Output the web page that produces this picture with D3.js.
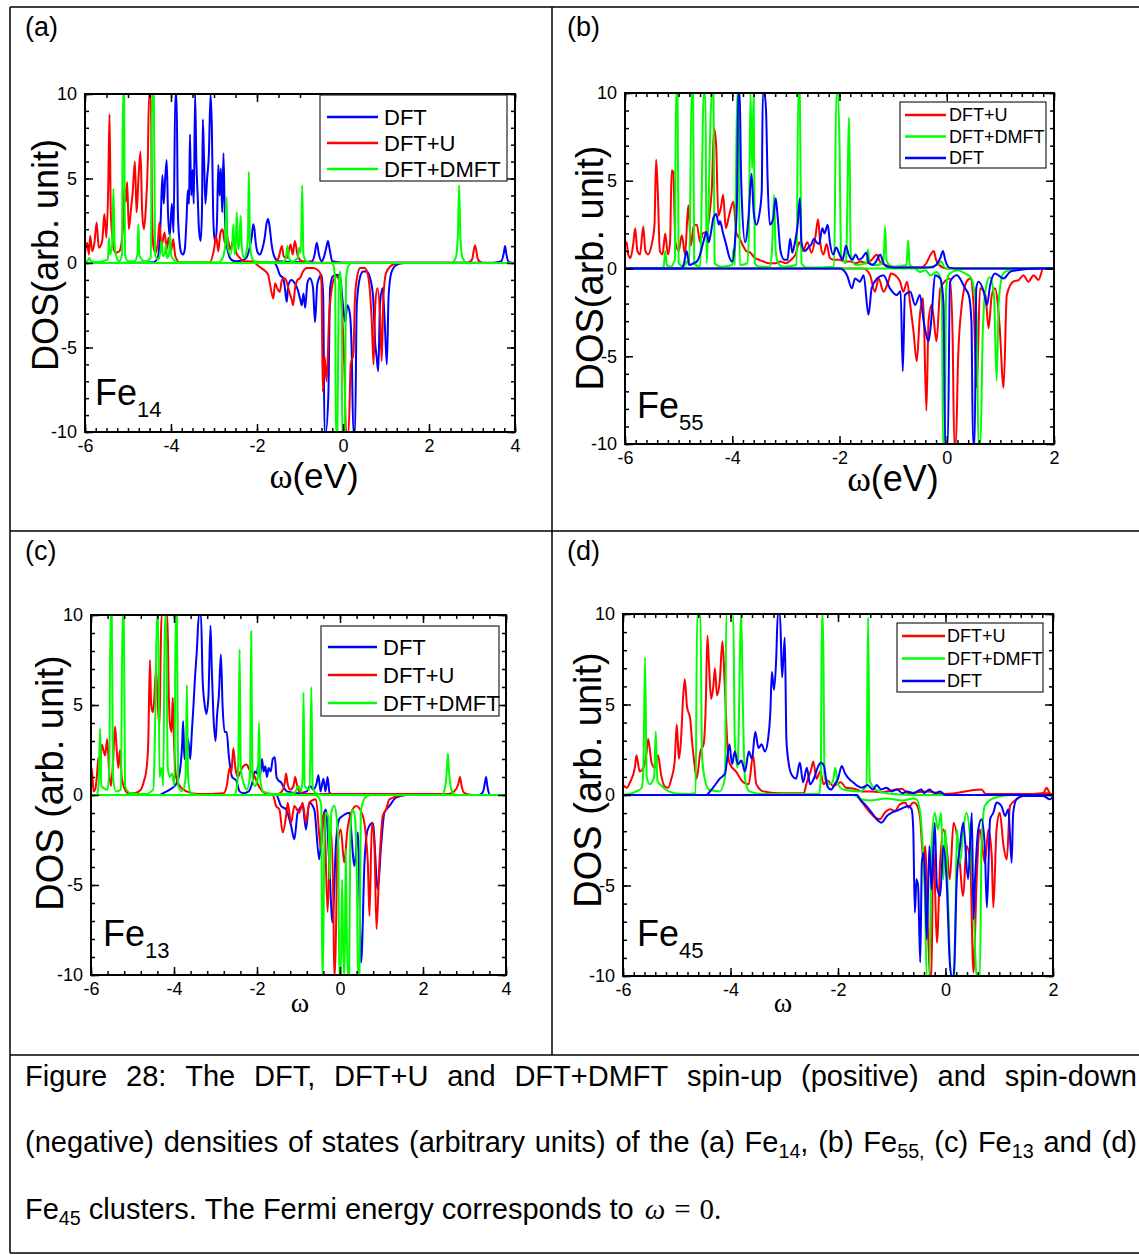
<!DOCTYPE html>
<html>
<head>
<meta charset="utf-8">
<script src="https://cdn.jsdelivr.net/npm/d3@7"></script>
<style>
  body { margin: 0; background: #fff; }
  svg { display: block; font-family: "Liberation Sans", Arial, sans-serif; }
</style>
</head>
<body>
<svg id="fig" width="1139" height="1255"></svg>
<script>
// ---- data: DOS vertices [omega (eV), DOS] ----
const yTicks = [-10, -5, 0, 5, 10]
const xTicksWide = [-6, -4, -2, 0, 2, 4]
const xTicksNarrow = [-6, -4, -2, 0, 2]

// (a) Fe14
const a_dft_up = [[-6,0],[-4.4,0.05],[-4.3,0.4],[-4.24,2.5],[-4.2,5.2],[-4.17,3.5],[-4.14,4.8],[-4.1,6.1],[-4.07,3],[-4.03,1.6],[-3.98,3.5],[-3.94,1.8],[-3.9,10],[-3.87,10],[-3.84,3],[-3.8,1.2],[-3.76,0.6],[-3.72,0.5],[-3.68,0.8],[-3.64,2.5],[-3.61,4.3],[-3.58,3.5],[-3.56,7.6],[-3.53,4],[-3.5,5.5],[-3.47,3.5],[-3.44,10],[-3.41,6],[-3.38,4],[-3.35,2],[-3.31,1.3],[-3.28,3],[-3.26,8.5],[-3.23,6],[-3.2,3.5],[-3.16,5],[-3.12,6.4],[-3.08,10],[-3.05,8],[-3.02,3],[-2.99,1.5],[-2.96,1.3],[-2.93,2.5],[-2.9,5.8],[-2.87,4],[-2.84,5.6],[-2.81,3],[-2.78,6.5],[-2.75,3],[-2.72,1.5],[-2.67,0.6],[-2.6,0.2],[-2.5,0.1],[-2.35,0.15],[-2.25,0.3],[-2.18,0.8],[-2.12,1.6],[-2.09,2.3],[-2.06,2.0],[-2.03,1.2],[-1.98,0.6],[-1.93,0.5],[-1.88,0.8],[-1.82,1.5],[-1.78,2.3],[-1.74,2.6],[-1.7,2.0],[-1.66,1.1],[-1.6,0.4],[-1.5,0.1],[-1.0,0.05],[-0.72,0.1],[-0.66,0.5],[-0.61,1.2],[-0.56,0.5],[-0.5,0.1],[-0.45,0.3],[-0.39,0.9],[-0.35,1.3],[-0.31,0.8],[-0.25,0.1],[0.0,0.02],[3.5,0.02],[3.68,0.1],[3.74,0.6],[3.77,1.0],[3.8,0.5],[3.86,0.05],[4,0]]
const a_dft_dn = [[-6,0],[-1.6,0],[-1.54,-0.2],[-1.47,-0.7],[-1.39,-0.9],[-1.35,-1.5],[-1.31,-2.3],[-1.27,-1.3],[-1.2,-1.0],[-1.12,-1.2],[-1.05,-1.6],[-0.99,-2.2],[-0.96,-2.5],[-0.92,-1.8],[-0.88,-2.65],[-0.83,-1.2],[-0.77,-0.9],[-0.7,-1.4],[-0.65,-3.5],[-0.6,-1.3],[-0.54,-0.8],[-0.5,-0.7],[-0.46,-2],[-0.43,-10],[-0.4,-10],[-0.34,-7.8],[-0.3,-1.5],[-0.24,-0.8],[-0.15,-0.7],[-0.07,-0.8],[0.0,-2.5],[0.05,-3.5],[0.1,-2.5],[0.16,-3.0],[0.2,-5],[0.24,-10],[0.28,-10],[0.32,-2.5],[0.4,-0.8],[0.47,-0.5],[0.55,-0.5],[0.62,-0.8],[0.7,-2],[0.75,-4.8],[0.78,-5.5],[0.82,-6.4],[0.86,-2.5],[0.92,-1.5],[0.97,-3.5],[1.02,-6],[1.06,-2],[1.12,-0.6],[1.2,-0.2],[1.3,-0.05],[1.45,0],[4,0]]
const a_dftu_up = [[-6,0.6],[-5.95,1.2],[-5.91,0.5],[-5.88,1.6],[-5.83,0.7],[-5.78,1.2],[-5.73,2.4],[-5.68,0.9],[-5.6,1.3],[-5.55,2.9],[-5.5,1.5],[-5.46,4.5],[-5.43,8.8],[-5.4,3],[-5.35,1.2],[-5.3,0.6],[-5.2,0.7],[-5.12,2],[-5.08,4.5],[-5.05,3.6],[-5.02,4.8],[-4.98,2],[-4.93,3.2],[-4.89,4.2],[-4.84,6],[-4.8,3],[-4.76,4.8],[-4.71,6.6],[-4.67,3],[-4.63,2],[-4.58,3.5],[-4.54,6],[-4.51,10],[-4.47,10],[-4.44,3],[-4.41,1],[-4.36,0.6],[-4.3,1.4],[-4.27,2.4],[-4.22,1],[-4.15,1.8],[-4.1,0.8],[-4.06,1.5],[-4,0.7],[-3.95,1.4],[-3.9,0.4],[-3.8,0.05],[-3.1,0.05],[-3.0,0.8],[-2.95,1.6],[-2.9,0.7],[-2.85,1.8],[-2.8,2.0],[-2.75,1.2],[-2.7,1.6],[-2.62,0.8],[-2.55,1.4],[-2.48,0.6],[-2.4,0.3],[-2.3,0.1],[-1.6,0.05],[-1.5,0.3],[-1.42,1.0],[-1.38,0.4],[-1.3,0.3],[-1.22,1.1],[-1.17,0.5],[-1.12,1.3],[-1.05,0.4],[-0.95,0.1],[-0.6,0.02],[2.9,0.02],[3.0,0.2],[3.07,1.05],[3.14,0.2],[3.25,0],[4,0]]
const a_dftu_dn = [[-6,0],[-2.05,0],[-2.0,-0.1],[-1.9,-0.3],[-1.8,-0.5],[-1.74,-0.7],[-1.68,-1.5],[-1.62,-2.1],[-1.58,-1.2],[-1.53,-1.5],[-1.47,-1.7],[-1.42,-1.0],[-1.35,-0.9],[-1.31,-1.1],[-1.25,-1.7],[-1.19,-2.2],[-1.16,-2.5],[-1.12,-1.6],[-1.06,-1.0],[-1.0,-0.9],[-0.93,-0.5],[-0.84,-0.3],[-0.75,-0.3],[-0.69,-0.3],[-0.6,-0.4],[-0.53,-0.6],[-0.5,-1.2],[-0.47,-7.6],[-0.43,-5.5],[-0.38,-7.0],[-0.32,-3],[-0.26,-1.5],[-0.22,-1.0],[-0.15,-0.8],[-0.07,-1.2],[-0.02,-3],[0.03,-6],[0.07,-10],[0.13,-10],[0.18,-6],[0.24,-5.4],[0.28,-2],[0.33,-0.8],[0.4,-0.3],[0.5,-0.3],[0.57,-0.6],[0.62,-1.5],[0.67,-3.5],[0.71,-6],[0.75,-2.5],[0.8,-1.5],[0.86,-3],[0.9,-5.8],[0.94,-2],[1.0,-0.6],[1.1,-0.2],[1.2,-0.05],[1.3,0],[4,0]]
const a_dmft_up = [[-6,0.1],[-5.95,0.1],[-5.9,0.3],[-5.86,0.1],[-5.75,0.05],[-5.47,0.2],[-5.44,1.5],[-5.42,0.5],[-5.37,1],[-5.34,4.4],[-5.31,1],[-5.26,0.3],[-5.2,0.1],[-5.14,0.5],[-5.12,10],[-5.09,10],[-5.07,0.5],[-5.0,0.1],[-4.85,0.1],[-4.78,0.5],[-4.76,2.3],[-4.73,0.4],[-4.6,0.1],[-4.47,0.3],[-4.44,10],[-4.4,10],[-4.37,0.5],[-4.3,0.2],[-4.24,0.8],[-4.22,1.3],[-4.19,0.4],[-4.14,0.6],[-4.12,1.1],[-4.09,0.3],[-4.04,0.6],[-4.02,1.7],[-4.0,0.5],[-3.94,0.2],[-3.85,0.05],[-2.9,0.05],[-2.8,0.3],[-2.74,1.0],[-2.71,3.9],[-2.68,1.0],[-2.62,0.5],[-2.57,1.2],[-2.55,2.3],[-2.52,0.5],[-2.49,1.5],[-2.47,3.0],[-2.44,0.8],[-2.41,1.2],[-2.38,2.8],[-2.35,0.8],[-2.3,0.3],[-2.25,0.6],[-2.21,1.5],[-2.19,5.4],[-2.16,1.0],[-2.1,0.2],[-2.0,0.05],[-1.4,0.05],[-1.33,0.3],[-1.29,1.0],[-1.26,0.3],[-1.18,0.1],[-1.05,0.3],[-1.02,0.9],[-0.98,0.6],[-0.95,4.6],[-0.92,0.5],[-0.85,0.1],[-0.7,0],[2.5,0],[2.62,0.3],[2.67,1.5],[2.7,4.6],[2.73,1.5],[2.78,0.3],[2.9,0],[4,0]]
const a_dmft_dn = [[-6,0],[-0.25,0],[-0.21,-0.3],[-0.18,-1.2],[-0.17,-10],[-0.13,-10],[-0.1,-1.5],[-0.07,-0.5],[-0.05,-1.2],[-0.03,-3],[-0.02,-10],[0.04,-10],[0.07,-1],[0.12,-0.2],[0.2,0],[4,0]]

// (b) Fe55
const b_dftu_up = [[-6,1.5],[-5.97,1.5],[-5.94,0.8],[-5.9,0.6],[-5.85,1.3],[-5.81,2.3],[-5.77,1.0],[-5.72,0.8],[-5.66,2.4],[-5.62,1.0],[-5.57,0.8],[-5.5,1.4],[-5.45,2.5],[-5.42,6.2],[-5.39,4.5],[-5.35,1.0],[-5.3,0.8],[-5.25,2.0],[-5.2,0.8],[-5.16,1.5],[-5.13,5.6],[-5.1,5.5],[-5.06,1.5],[-5.0,1.0],[-4.94,1.9],[-4.88,0.8],[-4.82,3.6],[-4.77,1.3],[-4.72,2.4],[-4.66,2.5],[-4.6,1.5],[-4.55,2.0],[-4.48,2.1],[-4.42,3.2],[-4.38,4.6],[-4.34,8.0],[-4.3,7.0],[-4.26,3.0],[-4.21,3.5],[-4.17,4.2],[-4.12,2.3],[-4.06,3.0],[-3.98,3.8],[-3.92,2.0],[-3.86,1.7],[-3.8,1.3],[-3.74,1.0],[-3.66,0.9],[-3.58,0.6],[-3.5,0.5],[-3.42,0.4],[-3.32,0.3],[-3.2,0.3],[-3.1,0.4],[-3.0,0.3],[-2.9,0.5],[-2.82,0.8],[-2.75,1.5],[-2.68,1.0],[-2.6,1.5],[-2.52,0.9],[-2.45,1.8],[-2.4,2.8],[-2.36,1.5],[-2.3,0.8],[-2.24,1.4],[-2.18,0.6],[-2.1,0.5],[-2.0,0.5],[-1.9,0.4],[-1.8,0.4],[-1.7,0.3],[-1.6,0.4],[-1.5,0.3],[-1.4,0.5],[-1.3,0.8],[-1.25,0.4],[-1.15,0.2],[-1.0,0.1],[-0.8,0.05],[-0.5,0.05],[-0.38,0.3],[-0.3,0.8],[-0.24,1.0],[-0.2,0.5],[-0.14,0.2],[0,0],[2,0]]
const b_dftu_dn = [[-6,0],[-1.55,0],[-1.43,-0.38],[-1.34,-1.32],[-1.27,-0.57],[-1.18,-1.32],[-1.09,-0.75],[-1.04,-0.28],[-0.96,-0.38],[-0.87,-0.75],[-0.81,-1.32],[-0.74,-0.75],[-0.68,-2.08],[-0.62,-3.58],[-0.56,-5.28],[-0.5,-2.64],[-0.44,-1.7],[-0.38,-8.11],[-0.34,-3.02],[-0.28,-2.08],[-0.19,-4.15],[-0.12,-1.13],[0.06,-0.57],[0.11,-4],[0.14,-10],[0.17,-10],[0.21,-5.28],[0.28,-2.08],[0.37,-0.75],[0.44,-0.57],[0.5,-2.08],[0.56,-6.79],[0.62,-1.13],[0.72,-1.5],[0.78,-3.4],[0.84,-1.51],[0.9,-1.13],[0.98,-3.02],[1.06,-6.79],[1.12,-1.51],[1.24,-0.75],[1.34,-0.66],[1.43,-0.38],[1.52,-0.75],[1.62,-0.38],[1.71,-0.66],[1.8,0],[2,0]]
const b_dmft_up = [[-6,0],[-5.3,0],[-5.27,0.3],[-5.25,1.0],[-5.22,0.2],[-5.15,0.1],[-5.07,0.5],[-5.05,10],[-5.02,10],[-5.0,0.3],[-4.9,0.1],[-4.85,0.4],[-4.8,0.2],[-4.76,10],[-4.73,10],[-4.71,0.3],[-4.6,0.1],[-4.53,10],[-4.5,10],[-4.48,0.3],[-4.38,10],[-4.35,10],[-4.33,0.3],[-4.2,0.1],[-4.0,0.2],[-3.98,1.1],[-3.95,0.2],[-3.91,10],[-3.88,10],[-3.86,0.2],[-3.72,0.3],[-3.69,2],[-3.66,10],[-3.63,5.7],[-3.6,10],[-3.58,0.3],[-3.5,0.1],[-3.3,0.1],[-3.26,1.0],[-3.22,4.2],[-3.19,1.0],[-3.14,0.3],[-3.05,0.1],[-2.8,0.2],[-2.77,10],[-2.74,10],[-2.71,0.3],[-2.6,0.05],[-2.1,0.1],[-2.06,10],[-2.03,10],[-2.0,7.1],[-1.97,0.8],[-1.88,0.3],[-1.82,8.6],[-1.79,0.8],[-1.7,0.2],[-1.5,0.3],[-1.47,1.1],[-1.44,0.3],[-1.3,0.2],[-1.18,0.4],[-1.15,2.4],[-1.12,0.4],[-1.0,0.1],[-0.75,0.2],[-0.72,1.6],[-0.69,0.2],[-0.55,0.0],[-0.3,0.1],[-0.18,0.2],[-0.1,0.4],[-0.05,0.1],[0.0,0],[2,0]]
const b_dmft_dn = [[-6,0],[-0.6,0],[-0.5,-0.2],[-0.4,-0.1],[-0.3,-0.4],[-0.2,-0.2],[-0.12,-0.5],[-0.09,-2],[-0.07,-10],[-0.04,-10],[-0.01,-1.1],[0.03,-0.4],[0.1,-0.2],[0.2,-0.1],[0.35,-0.3],[0.45,-0.5],[0.52,-1.5],[0.56,-3],[0.59,-10],[0.63,-10],[0.67,-3.8],[0.72,-1.3],[0.8,-0.5],[0.88,-1.5],[0.93,-6.4],[0.97,-1.9],[1.05,-0.3],[1.15,-0.1],[1.3,0],[2,0]]
const b_dft_up = [[-6,0],[-4.95,0],[-4.9,0.3],[-4.85,1.0],[-4.8,0.2],[-4.72,0.3],[-4.66,0.4],[-4.6,0.8],[-4.54,1.5],[-4.48,2.1],[-4.44,1.5],[-4.4,2.0],[-4.35,2.9],[-4.3,3.1],[-4.25,2.5],[-4.23,2.7],[-4.17,2.0],[-4.1,1.2],[-4.07,0.8],[-4.0,0.4],[-3.95,1.5],[-3.91,4.0],[-3.89,10],[-3.86,10],[-3.84,6.0],[-3.82,3.8],[-3.76,1.5],[-3.7,2.8],[-3.64,5.4],[-3.6,3.2],[-3.55,2.5],[-3.5,3.0],[-3.45,4.4],[-3.43,10],[-3.4,10],[-3.37,9.0],[-3.34,5.0],[-3.3,2.5],[-3.24,2.8],[-3.19,4.0],[-3.16,3.2],[-3.1,1.0],[-3.03,0.5],[-2.97,0.5],[-2.92,1.7],[-2.88,0.9],[-2.83,1.5],[-2.78,2.5],[-2.74,4.0],[-2.71,1.5],[-2.65,1.0],[-2.58,1.2],[-2.52,1.4],[-2.48,1.7],[-2.43,1.5],[-2.38,1.4],[-2.32,2.3],[-2.28,2.0],[-2.22,2.5],[-2.18,1.5],[-2.12,0.8],[-2.06,1.2],[-2.0,0.8],[-1.94,0.5],[-1.88,1.3],[-1.83,0.8],[-1.76,0.5],[-1.7,0.8],[-1.64,0.5],[-1.58,0.6],[-1.5,0.9],[-1.45,0.3],[-1.38,0.2],[-1.3,0.5],[-1.24,0.8],[-1.18,0.3],[-1.1,0.1],[-0.9,0.05],[-0.3,0.05],[-0.2,0.2],[-0.12,0.6],[-0.07,1.0],[-0.03,0.5],[0.05,0.05],[0.2,0],[2,0]]
const b_dft_dn = [[-6,0],[-1.99,0],[-1.86,-0.38],[-1.77,-1.13],[-1.71,-0.57],[-1.62,-0.75],[-1.55,-0.38],[-1.46,-2.64],[-1.4,-1.13],[-1.3,-0.57],[-1.18,-0.38],[-1.06,-1.13],[-0.93,-1.51],[-0.86,-1.3],[-0.82,-5.85],[-0.78,-1.51],[-0.68,-1.32],[-0.59,-2.08],[-0.5,-1.51],[-0.43,-3.02],[-0.34,-4.15],[-0.28,-2.64],[-0.22,-0.38],[-0.12,-0.57],[-0.06,-2],[-0.03,-10],[0.02,-10],[0.06,-0.75],[0.19,-0.38],[0.28,-0.75],[0.34,-1.13],[0.41,-1.51],[0.46,-3],[0.49,-10],[0.52,-10],[0.55,-1.13],[0.59,-0.75],[0.69,-1.32],[0.75,-2.08],[0.81,-0.94],[0.9,-0.28],[1.06,-0.57],[1.18,-0.19],[1.31,-0.1],[1.68,0],[2,0]]

// (c) Fe13
const c_dft_up = [[-6,0],[-4.35,0],[-4.26,0.1],[-4.1,0.3],[-3.95,0.6],[-3.86,1.3],[-3.8,3.0],[-3.78,4.1],[-3.75,2.0],[-3.7,2.5],[-3.66,3.1],[-3.61,2.0],[-3.57,3.5],[-3.53,5.0],[-3.5,6.3],[-3.45,8],[-3.4,10],[-3.35,10],[-3.31,6.4],[-3.26,5.0],[-3.22,4.5],[-3.17,5.5],[-3.12,9.4],[-3.09,7.0],[-3.05,4.4],[-3.0,3.0],[-2.96,4.5],[-2.92,5.5],[-2.87,7.8],[-2.83,5.0],[-2.78,3.5],[-2.73,3.5],[-2.68,2.2],[-2.6,1.0],[-2.5,0.8],[-2.42,0.2],[-2.33,0.1],[-2.2,0.2],[-2.1,0.8],[-2.05,1.3],[-2.0,1.2],[-1.97,1.7],[-1.93,1.0],[-1.88,2.0],[-1.84,1.3],[-1.8,1.6],[-1.76,1.0],[-1.72,1.5],[-1.67,1.3],[-1.62,2.0],[-1.57,2.1],[-1.53,1.0],[-1.48,0.8],[-1.42,0.7],[-1.35,0.4],[-1.28,0.2],[-1.0,0.1],[-0.8,0.2],[-0.72,0.5],[-0.64,0.3],[-0.57,0.6],[-0.52,1.1],[-0.47,0.2],[-0.4,0.9],[-0.35,0.2],[-0.3,1.0],[-0.25,0.1],[-0.1,0],[3.35,0],[3.45,0.2],[3.5,0.8],[3.52,1.0],[3.55,0.5],[3.62,0],[4,0]]
const c_dft_dn = [[-6,0],[-1.54,0],[-1.42,-0.61],[-1.3,-0.8],[-1.18,-1.7],[-1.1,-2.46],[-1.02,-0.98],[-0.9,-0.61],[-0.82,-1.91],[-0.74,-0.43],[-0.62,-0.8],[-0.5,-3.57],[-0.42,-1.35],[-0.34,-0.8],[-0.26,-3.76],[-0.18,-7.09],[-0.1,-2.83],[-0.02,-1.35],[0.06,-1.17],[0.22,-0.98],[0.35,-3.94],[0.43,-2.09],[0.51,-9.31],[0.59,-3.76],[0.67,-1.91],[0.79,-1.54],[0.91,-5.24],[0.99,-2.83],[1.07,-0.98],[1.19,-0.61],[1.35,-0.15],[1.59,0],[4,0]]
const c_dftu_up = [[-6,1.5],[-5.98,1.5],[-5.94,0.2],[-5.9,0.3],[-5.86,1.0],[-5.82,2.1],[-5.78,1.5],[-5.74,2.8],[-5.7,2.5],[-5.66,2.2],[-5.61,3.1],[-5.56,1.2],[-5.52,0.5],[-5.47,1.8],[-5.42,3.8],[-5.38,2.5],[-5.34,1.5],[-5.3,2.5],[-5.26,1.0],[-5.2,0.4],[-5.1,0.1],[-4.95,0.1],[-4.8,0.3],[-4.72,0.8],[-4.66,1.5],[-4.62,3],[-4.58,7.5],[-4.55,5.0],[-4.51,4.6],[-4.48,5.2],[-4.43,7.0],[-4.39,5.0],[-4.35,3.8],[-4.32,8],[-4.3,10],[-4.25,10],[-4.2,10],[-4.16,10],[-4.13,6],[-4.1,4.0],[-4.06,3.5],[-4.03,5.4],[-4.0,3],[-3.95,1.0],[-3.86,0.5],[-3.7,0.2],[-3.4,0.05],[-2.8,0.1],[-2.73,0.5],[-2.66,1.5],[-2.62,1.2],[-2.57,2.6],[-2.52,1.5],[-2.46,1.0],[-2.4,1.3],[-2.33,1.6],[-2.25,1.7],[-2.18,1.4],[-2.12,1.3],[-2.05,1.0],[-1.98,0.6],[-1.9,0.3],[-1.8,0.1],[-1.5,0.05],[-1.4,0.2],[-1.33,0.7],[-1.3,1.2],[-1.26,0.6],[-1.2,0.3],[-1.12,0.5],[-1.08,1.0],[-1.04,0.6],[-0.98,0.2],[-0.85,0.05],[2.6,0.05],[2.75,0.2],[2.85,0.6],[2.89,1.0],[2.93,0.5],[3.0,0.1],[3.2,0],[4,0]]
const c_dftu_dn = [[-6,0],[-1.62,0],[-1.54,-0.61],[-1.46,-0.8],[-1.38,-2.09],[-1.3,-1.17],[-1.26,-0.43],[-1.18,-1.54],[-1.1,-0.61],[-0.98,-0.98],[-0.9,-0.43],[-0.82,-1.54],[-0.74,-0.43],[-0.58,-0.24],[-0.46,-3.0],[-0.38,-0.98],[-0.3,-6.5],[-0.22,-1.91],[-0.16,-6],[-0.14,-10],[-0.12,-10],[-0.06,-2.83],[0.02,-1.91],[0.1,-3.76],[0.18,-1.91],[0.27,-0.98],[0.39,-0.61],[0.55,-1.17],[0.67,-3.76],[0.71,-6.72],[0.77,-1.54],[0.83,-2.83],[0.88,-7.46],[0.95,-3.76],[1.03,-1.17],[1.11,-0.8],[1.19,-0.24],[1.59,0],[4,0]]
const c_dmft_up = [[-6,0],[-5.86,0],[-5.82,0.5],[-5.78,3.7],[-5.75,0.5],[-5.6,0.3],[-5.56,1.5],[-5.53,10],[-5.5,10],[-5.47,1],[-5.4,0.2],[-5.28,0.3],[-5.24,10],[-5.21,10],[-5.18,0.5],[-5.05,0.1],[-4.7,0.05],[-4.5,0.3],[-4.45,4.4],[-4.41,10],[-4.38,10],[-4.35,1.0],[-4.3,1.5],[-4.26,0.5],[-4.22,10],[-4.19,10],[-4.15,1.5],[-4.1,1.0],[-4.05,1.2],[-3.99,0.5],[-3.96,10],[-3.93,10],[-3.9,0.5],[-3.8,0.2],[-3.72,1.0],[-3.69,6.1],[-3.66,1.0],[-3.6,0.1],[-3.4,0],[-2.55,0],[-2.48,0.5],[-2.45,2],[-2.42,8.1],[-2.39,1.5],[-2.3,0.5],[-2.25,0.3],[-2.17,1.0],[-2.14,9.1],[-2.11,1.0],[-2.05,0.5],[-1.98,1.0],[-1.95,4.0],[-1.92,0.8],[-1.85,0.2],[-1.6,0.05],[-1.1,0.1],[-1.0,0.5],[-0.94,0.2],[-0.9,1.0],[-0.88,5.7],[-0.85,0.5],[-0.73,0.3],[-0.69,6.0],[-0.66,0.5],[-0.58,0.1],[-0.4,0],[2.45,0],[2.52,0.3],[2.57,1.2],[2.6,2.3],[2.63,1.2],[2.7,0.2],[2.8,0],[4,0]]
const c_dmft_dn = [[-6,0],[-0.6,0],[-0.5,-0.2],[-0.45,-0.6],[-0.43,-10],[-0.41,-10],[-0.38,-3.0],[-0.34,-1.0],[-0.28,-1.2],[-0.25,-4.7],[-0.21,-1.0],[-0.14,-0.6],[-0.07,-1.5],[-0.04,-3],[-0.02,-10],[0.02,-10],[0.05,-4.7],[0.09,-10],[0.11,-10],[0.14,-3.0],[0.18,-10],[0.22,-10],[0.25,-2.0],[0.3,-0.8],[0.36,-1.2],[0.41,-5],[0.43,-10],[0.47,-10],[0.5,-1.0],[0.55,-0.4],[0.62,-0.1],[0.75,0],[4,0]]

// (d) Fe45
const d_dftu_up = [[-6,0.55],[-5.93,0.4],[-5.87,0.7],[-5.78,1.5],[-5.75,2.2],[-5.69,1.3],[-5.62,1.5],[-5.56,2.4],[-5.53,3.1],[-5.47,1.8],[-5.41,1.5],[-5.35,2.2],[-5.29,1.1],[-5.23,0.5],[-5.16,0.4],[-5.1,0.9],[-5.04,1.8],[-5.0,3.9],[-4.96,2.0],[-4.92,3.1],[-4.88,5.5],[-4.85,6.4],[-4.81,4.9],[-4.75,4.2],[-4.71,2.8],[-4.67,1.7],[-4.63,0.9],[-4.56,2.4],[-4.5,2.8],[-4.46,5],[-4.43,8.8],[-4.4,7.2],[-4.36,5.3],[-4.32,6],[-4.29,7.0],[-4.25,5.5],[-4.2,6.3],[-4.15,8.5],[-4.11,6.3],[-4.05,2.4],[-4.01,1.7],[-3.9,1.3],[-3.76,0.7],[-3.66,0.6],[-3.58,2.2],[-3.52,0.6],[-3.39,0.2],[-3.1,0.1],[-2.8,0.1],[-2.64,0.1],[-2.58,0.7],[-2.5,1.4],[-2.46,1.85],[-2.4,0.9],[-2.33,1.3],[-2.27,0.6],[-2.2,0.8],[-2.09,0.5],[-1.95,0.7],[-1.85,0.4],[-1.7,0.35],[-1.55,0.2],[-1.4,0.2],[-1.21,0.15],[-0.81,0.35],[-0.7,0.1],[-0.35,0.2],[0,0.05],[0.67,0.3],[0.75,0.05],[1.5,0.05],[1.9,0.1],[2,0]]
const d_dftu_dn = [[-6,0],[-1.65,0],[-1.59,-0.24],[-1.5,-0.61],[-1.4,-0.98],[-1.31,-1.25],[-1.22,-1.34],[-1.13,-0.98],[-1.03,-0.79],[-0.94,-0.88],[-0.85,-0.52],[-0.75,-0.42],[-0.69,-0.7],[-0.6,-0.42],[-0.54,-0.52],[-0.47,-1.34],[-0.41,-3.74],[-0.38,-2.82],[-0.32,-8],[-0.29,-10],[-0.26,-10],[-0.23,-2.82],[-0.2,-4.66],[-0.16,-8.16],[-0.1,-3.74],[-0.04,-1.9],[0.02,-2.82],[0.08,-4.66],[0.15,-1.53],[0.24,-2.82],[0.33,-5.58],[0.39,-2.82],[0.46,-3.74],[0.52,-9.8],[0.58,-4.66],[0.64,-1.9],[0.73,-3.74],[0.8,-1.9],[0.86,-3.37],[0.89,-6.22],[0.95,-1.9],[1.01,-0.98],[1.08,-2.82],[1.14,-3.56],[1.2,-0.61],[1.32,-0.24],[1.45,0],[1.82,0.1],[1.88,0.4],[1.94,0.1],[2,0]]
const d_dmft_up = [[-6,0],[-5.75,0.2],[-5.65,0.4],[-5.62,1.5],[-5.59,7.6],[-5.56,1.0],[-5.5,0.6],[-5.42,1.0],[-5.39,3.5],[-5.36,0.8],[-5.28,0.5],[-5.15,0.2],[-4.9,0.05],[-4.65,0.1],[-4.62,10],[-4.59,10],[-4.56,10],[-4.53,2.2],[-4.48,0.9],[-4.4,0.3],[-4.2,0.2],[-4.1,1.0],[-4.08,10],[-4.06,10],[-4.03,10],[-3.99,10],[-3.95,10],[-3.92,3],[-3.87,1.5],[-3.8,10],[-3.77,5],[-3.73,0.9],[-3.65,0.2],[-3.4,0.05],[-2.35,0.05],[-2.32,1.0],[-2.3,10],[-2.28,10],[-2.25,1.0],[-2.18,0.6],[-2.1,0.7],[-2.05,1.5],[-2.0,0.6],[-1.9,0.3],[-1.6,0.2],[-1.47,0.5],[-1.44,9.8],[-1.41,0.8],[-1.3,0.3],[-1.1,0.1],[-0.6,0],[2,0]]
const d_dmft_dn = [[-6,0],[-1.7,0],[-1.6,-0.2],[-1.4,-0.3],[-1.1,-0.2],[-0.8,-0.3],[-0.6,-0.2],[-0.54,-0.24],[-0.47,-0.98],[-0.41,-3.74],[-0.38,-6],[-0.35,-10],[-0.3,-10],[-0.26,-2.82],[-0.2,-0.98],[-0.14,-1.9],[-0.08,-0.98],[-0.04,-4.66],[0.0,-1.9],[0.05,-6],[0.1,-10],[0.17,-10],[0.21,-1.9],[0.27,-3.74],[0.33,-1.9],[0.39,-0.98],[0.46,-2.5],[0.52,-6],[0.58,-10],[0.64,-10],[0.67,-2.82],[0.73,-0.61],[0.85,-0.24],[0.98,-0.1],[1.2,0],[2,0]]
const d_dft_up = [[-6,0],[-4.45,0],[-4.38,0.2],[-4.3,0.5],[-4.2,0.9],[-4.1,1.2],[-4.07,1.8],[-4.02,2.8],[-3.97,1.7],[-3.92,2.4],[-3.86,1.7],[-3.8,1.9],[-3.73,1.3],[-3.66,2.4],[-3.6,2.0],[-3.54,3.5],[-3.48,2.6],[-3.42,2.8],[-3.36,2.4],[-3.3,3.1],[-3.26,4.5],[-3.23,6.8],[-3.19,5.8],[-3.15,7.5],[-3.12,10],[-3.08,10],[-3.04,6.5],[-2.99,8.7],[-2.96,3.1],[-2.92,1.8],[-2.86,1.1],[-2.78,0.9],[-2.71,1.8],[-2.65,0.7],[-2.58,1.5],[-2.52,0.6],[-2.45,0.9],[-2.38,1.5],[-2.32,1.8],[-2.26,1.6],[-2.2,0.5],[-2.13,0.3],[-2.06,0.6],[-2.0,0.9],[-1.93,1.6],[-1.87,1.2],[-1.8,0.9],[-1.72,0.7],[-1.64,0.5],[-1.55,0.4],[-1.45,0.55],[-1.35,0.3],[-1.28,0.55],[-1.2,0.3],[-1.1,0.4],[-1.0,0.2],[-0.9,0.3],[-0.8,0.1],[-0.72,0.2],[-0.6,0.1],[-0.45,0.3],[-0.4,0.1],[-0.3,0.3],[-0.2,0.1],[-0.1,0.2],[0,0],[2,0]]
const d_dft_dn = [[-6,0],[-1.65,0],[-1.59,-0.24],[-1.47,-0.61],[-1.37,-0.98],[-1.28,-1.34],[-1.19,-1.53],[-1.09,-1.16],[-1.0,-0.98],[-0.91,-0.88],[-0.78,-0.7],[-0.69,-0.61],[-0.63,-0.79],[-0.6,-1.9],[-0.57,-6.5],[-0.54,-4.66],[-0.51,-5.03],[-0.47,-9.26],[-0.44,-3.74],[-0.41,-3.19],[-0.38,-4.66],[-0.35,-7.97],[-0.3,-2.82],[-0.26,-5.21],[-0.2,-1.53],[-0.16,-5.03],[-0.1,-5.58],[-0.04,-2.82],[0.02,-4.66],[0.08,-9.26],[0.11,-10],[0.15,-10],[0.21,-4.66],[0.27,-2.82],[0.33,-1.53],[0.42,-4.66],[0.49,-0.98],[0.52,-6.87],[0.55,-4.66],[0.61,-1.9],[0.67,-1.34],[0.73,-2.82],[0.77,-6.22],[0.83,-1.34],[0.89,-0.98],[0.95,-0.42],[1.04,-0.61],[1.11,-1.16],[1.17,-0.79],[1.23,-3.74],[1.26,-0.98],[1.32,-0.24],[1.45,-0.05],[1.82,-0.05],[1.94,-0.24],[2,-0.1]]

const seriesColor = {'DFT': '#0000ff', 'DFT+U': '#ff0000', 'DFT+DMFT': '#00ff00'}
const SANS = '"Liberation Sans", Arial, sans-serif'
const SERIF = '"Liberation Serif", "Times New Roman", serif'

const panels = [
  {tag: '(a)', tagPos: [25, 36], left: 85, top: 94, width: 430, height: 338,
   xDomain: [-6, 4], xTicks: xTicksWide, minorBottom: 0.25, minorTop: 0.5,
   series: [['DFT', a_dft_up, a_dft_dn], ['DFT+U', a_dftu_up, a_dftu_dn], ['DFT+DMFT', a_dmft_up, a_dmft_dn]],
   legend: {x: 320, y: 95, w: 187, h: 86, row0: 117, step: 26, x0: 327, x1: 378, tx: 384, size: 22},
   yLabel: {text: 'DOS(arb. unit)', x: 58, y: 255, size: 36},
   xLabel: {unit: '(eV)', x: 314, y: 488, size: 35},
   cluster: {sub: '14', x: 95, y: 405}},
  {tag: '(b)', tagPos: [567, 36], left: 625, top: 93, width: 429, height: 351,
   xDomain: [-6, 2], xTicks: xTicksNarrow, minorBottom: 0.2, minorTop: 0.2,
   series: [['DFT+U', b_dftu_up, b_dftu_dn], ['DFT+DMFT', b_dmft_up, b_dmft_dn], ['DFT', b_dft_up, b_dft_dn]],
   legend: {x: 900, y: 102, w: 146, h: 66, row0: 115, step: 21.5, x0: 905, x1: 946, tx: 949, size: 18},
   yLabel: {text: 'DOS(arb. unit)', x: 603, y: 268, size: 38},
   xLabel: {unit: '(eV)', x: 893, y: 491, size: 36},
   cluster: {sub: '55', x: 637, y: 418}},
  {tag: '(c)', tagPos: [25, 560], left: 91, top: 615, width: 415, height: 360,
   xDomain: [-6, 4], xTicks: xTicksWide, minorBottom: 0.4, minorTop: 0.4,
   series: [['DFT', c_dft_up, c_dft_dn], ['DFT+U', c_dftu_up, c_dftu_dn], ['DFT+DMFT', c_dmft_up, c_dmft_dn]],
   legend: {x: 321, y: 626, w: 178, h: 90, row0: 647, step: 28, x0: 328, x1: 377, tx: 383, size: 22},
   yLabel: {text: 'DOS (arb. unit)', x: 63, y: 783, size: 38},
   xLabel: {unit: '', x: 300, y: 1012, size: 28},
   cluster: {sub: '13', x: 103, y: 946}},
  {tag: '(d)', tagPos: [567, 560], left: 623, top: 614, width: 430, height: 362,
   xDomain: [-6, 2], xTicks: xTicksNarrow, minorBottom: 0.2, minorTop: 0.2,
   series: [['DFT+U', d_dftu_up, d_dftu_dn], ['DFT+DMFT', d_dmft_up, d_dmft_dn], ['DFT', d_dft_up, d_dft_dn]],
   legend: {x: 897, y: 623, w: 146, h: 69, row0: 636, step: 22.5, x0: 902, x1: 945, tx: 947, size: 18},
   yLabel: {text: 'DOS (arb. unit)', x: 601, y: 780, size: 38},
   xLabel: {unit: '', x: 783, y: 1012, size: 28},
   cluster: {sub: '45', x: 637, y: 946}},
]

const svg = d3.select('#fig')

// table frame around the four panels and the caption
const frame = svg.append('g').attr('stroke', '#000').attr('stroke-width', 1.5)
frame.append('line').attr('x1', 10).attr('x2', 10).attr('y1', 7).attr('y2', 1253)
frame.append('line').attr('x1', 552).attr('x2', 552).attr('y1', 7).attr('y2', 1055)
;[7, 531, 1055, 1253].forEach(yy =>
  frame.append('line').attr('x1', 10).attr('x2', 1139).attr('y1', yy).attr('y2', yy))

const steps = (d0, d1, step) => d3.range(Math.round((d1 - d0) / step) + 1).map(i => +(d0 + i * step).toFixed(4))

function styleAxis(g, size) {
  g.attr('font-family', SANS).attr('font-size', size)
  g.select('.domain').remove()
  g.selectAll('.tick line').attr('stroke', '#000').attr('stroke-width', 1.5)
  g.selectAll('.tick text').attr('fill', '#000')
}

function dosPanel(p) {
  const g = svg.append('g').attr('transform', `translate(${p.left},${p.top})`)
  const x = d3.scaleLinear().domain(p.xDomain).range([0, p.width])
  const y = d3.scaleLinear().domain([-10, 10]).range([p.height, 0])

  const clipId = 'clip' + p.tag.replace(/\W/g, '')
  g.append('clipPath').attr('id', clipId)
    .append('rect').attr('width', p.width).attr('height', p.height)

  const line = d3.line().x(d => x(d[0])).y(d => y(d[1])).curve(d3.curveMonotoneX)
  const plot = g.append('g').attr('clip-path', `url(#${clipId})`)
  p.series.forEach(([name, up, dn]) => {
    plot.selectAll(null).data([up, dn]).join('path')
      .attr('d', line)
      .attr('fill', 'none')
      .attr('stroke', seriesColor[name])
      .attr('stroke-width', 2)
      .attr('stroke-linejoin', 'round')
  })

  // ticks point inward on all four sides (Origin style)
  const fmt = d => String(d)
  const yMinor = steps(-10, 10, 1)
  g.append('g').call(d3.axisLeft(y).tickValues(yMinor).tickSize(-4).tickFormat(''))
    .call(a => styleAxis(a, 18))
  g.append('g').call(d3.axisLeft(y).tickValues(yTicks).tickSize(-8).tickPadding(8).tickFormat(fmt))
    .call(a => styleAxis(a, 18))
  g.append('g').attr('transform', `translate(${p.width},0)`)
    .call(d3.axisRight(y).tickValues(yMinor).tickSize(-4).tickFormat(''))
    .call(a => styleAxis(a, 18))
  g.append('g').attr('transform', `translate(${p.width},0)`)
    .call(d3.axisRight(y).tickValues(yTicks).tickSize(-8).tickFormat(''))
    .call(a => styleAxis(a, 18))

  g.append('g').attr('transform', `translate(0,${p.height})`)
    .call(d3.axisBottom(x).tickValues(steps(p.xDomain[0], p.xDomain[1], p.minorBottom)).tickSize(-4).tickFormat(''))
    .call(a => styleAxis(a, 18))
  g.append('g').attr('transform', `translate(0,${p.height})`)
    .call(d3.axisBottom(x).tickValues(p.xTicks).tickSize(-8).tickPadding(7).tickFormat(fmt))
    .call(a => styleAxis(a, 18))
  g.append('g')
    .call(d3.axisTop(x).tickValues(steps(p.xDomain[0], p.xDomain[1], p.minorTop)).tickSize(-4).tickFormat(''))
    .call(a => styleAxis(a, 18))
  g.append('g')
    .call(d3.axisTop(x).tickValues(p.xTicks).tickSize(-8).tickFormat(''))
    .call(a => styleAxis(a, 18))

  g.append('rect').attr('width', p.width).attr('height', p.height)
    .attr('fill', 'none').attr('stroke', '#000').attr('stroke-width', 2)

  // legend
  const L = p.legend
  const lg = svg.append('g')
  lg.append('rect').attr('x', L.x).attr('y', L.y).attr('width', L.w).attr('height', L.h)
    .attr('fill', '#fff').attr('stroke', '#222').attr('stroke-width', 1.2)
  p.series.forEach(([name], i) => {
    const ry = L.row0 + i * L.step
    lg.append('line').attr('x1', L.x0).attr('x2', L.x1).attr('y1', ry).attr('y2', ry)
      .attr('stroke', seriesColor[name]).attr('stroke-width', 2.5)
    lg.append('text').attr('x', L.tx).attr('y', ry).attr('dy', '0.36em')
      .attr('font-size', L.size).attr('fill', '#000').text(name)
  })

  // axis titles
  svg.append('text')
    .attr('transform', `translate(${p.yLabel.x},${p.yLabel.y}) rotate(-90)`)
    .attr('text-anchor', 'middle').attr('font-size', p.yLabel.size).attr('fill', '#000')
    .text(p.yLabel.text)
  const xt = svg.append('text').attr('x', p.xLabel.x).attr('y', p.xLabel.y)
    .attr('text-anchor', 'middle').attr('font-size', p.xLabel.size).attr('fill', '#000')
  xt.append('tspan').attr('font-family', SERIF).text('ω')
  if (p.xLabel.unit) xt.append('tspan').text(p.xLabel.unit)

  // cluster name
  const ct = svg.append('text').attr('x', p.cluster.x).attr('y', p.cluster.y).attr('fill', '#000')
  ct.append('tspan').attr('font-size', 36).text('Fe')
  ct.append('tspan').attr('font-size', 22).attr('dy', 12).text(p.cluster.sub)

  svg.append('text').attr('x', p.tagPos[0]).attr('y', p.tagPos[1])
    .attr('font-size', 27).attr('fill', '#000').text(p.tag)
}

panels.forEach(dosPanel)

// caption, justified the way the document sets it
const capLines = [
  {text: 'Figure 28: The DFT, DFT+U and DFT+DMFT spin-up (positive) and spin-down', y: 1086, justify: true},
  {text: '(negative) densities of states (arbitrary units) of the (a) Fe_{14}, (b) Fe_{55,} (c) Fe_{13} and (d)', y: 1152, justify: true},
  {text: 'Fe_{45} clusters. The Fermi energy corresponds to', y: 1219, justify: false},
]
const CAP_SIZE = 29, CAP_LEFT = 25, CAP_RIGHT = 1137

function captionWord(g, word, yy) {
  const t = g.append('text').attr('y', yy).attr('font-size', CAP_SIZE).attr('fill', '#000')
  word.split(/(_\{[^}]*\})/).filter(s => s).forEach(part => {
    const m = part.match(/^_\{([^}]*)\}$/)
    if (m) t.append('tspan').attr('font-size', CAP_SIZE * 0.68).attr('dy', 6).text(m[1])
    else {
      const ts = t.append('tspan').text(part)
      if (t.selectAll('tspan').size() > 1) ts.attr('dy', -6)
    }
  })
  return t
}

const cap = svg.append('g')
capLines.forEach(ln => {
  const words = ln.text.split(' ').map(w => captionWord(cap, w, ln.y))
  const widths = words.map(t => t.node().getComputedTextLength())
  const total = d3.sum(widths)
  const gap = ln.justify ? (CAP_RIGHT - CAP_LEFT - total) / (words.length - 1) : CAP_SIZE * 0.278
  let cx = CAP_LEFT
  words.forEach((t, i) => { t.attr('x', cx); cx += widths[i] + gap })
  if (!ln.justify) {
    const mt = cap.append('text').attr('x', cx + 3).attr('y', ln.y)
      .attr('font-size', CAP_SIZE).attr('font-family', SERIF).attr('fill', '#000')
    mt.append('tspan').attr('font-style', 'italic').text('ω')
    mt.append('tspan').attr('dx', 9).text('=')
    mt.append('tspan').attr('dx', 9).text('0.')
  }
})
</script>
</body>
</html>
